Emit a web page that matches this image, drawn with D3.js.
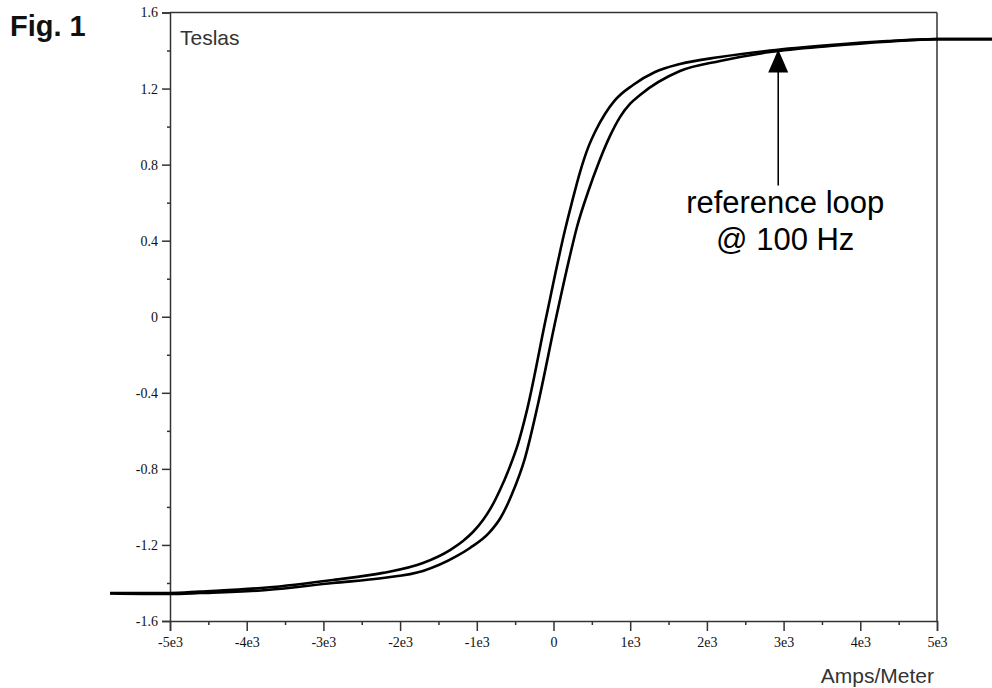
<!DOCTYPE html>
<html>
<head>
<meta charset="utf-8">
<script src="https://cdn.jsdelivr.net/npm/d3@7"></script>
<style>
  html, body { margin: 0; padding: 0; background: #fff; }
  svg { display: block; }
</style>
</head>
<body>
<svg id="chart" width="992" height="688"></svg>
<script>
// ---------------- data ----------------
// Descending (upper / left) branch of the B-H loop: H in A/m, B in Tesla
const descH = [-5782, -5000, -4610, -3736, -2875, -2223, -1702, -1349, -1180, -1050, -919, -802, -698, -580, -463, -345, -98, 150, 241, 346, 450, 554, 671, 802, 1037, 1324, 1649, 2171, 2823, 3605, 4348, 5000, 5717];
const descB = [-1.453, -1.453, -1.445, -1.424, -1.384, -1.347, -1.295, -1.227, -1.179, -1.132, -1.069, -0.995, -0.911, -0.800, -0.669, -0.490, -0.007, 0.456, 0.603, 0.761, 0.888, 0.982, 1.066, 1.139, 1.219, 1.287, 1.329, 1.366, 1.400, 1.429, 1.450, 1.460, 1.460];
// Ascending (lower / right) branch
const ascH = [-5782, -5000, -4610, -3736, -2875, -2223, -1702, -1258, -1089, -841, -684, -541, -372, -202, 33, 202, 306, 450, 593, 737, 867, 997, 1128, 1649, 2171, 2823, 3605, 4348, 5000, 5717];
const ascB = [-1.455, -1.458, -1.453, -1.437, -1.400, -1.374, -1.337, -1.258, -1.216, -1.137, -1.053, -0.932, -0.743, -0.459, -0.007, 0.299, 0.472, 0.656, 0.814, 0.951, 1.050, 1.119, 1.166, 1.292, 1.345, 1.392, 1.424, 1.447, 1.460, 1.460];

// axis ticks
const xTicks = [-5000, -4000, -3000, -2000, -1000, 0, 1000, 2000, 3000, 4000, 5000];
const xTickLabels = ["-5e3", "-4e3", "-3e3", "-2e3", "-1e3", "0", "1e3", "2e3", "3e3", "4e3", "5e3"];
const xMinor = [-4500, -3500, -2500, -1500, -500, 500, 1500, 2500, 3500, 4500];
const yTicks = [1.6, 1.2, 0.8, 0.4, 0, -0.4, -0.8, -1.2, -1.6];
const yTickLabels = ["1.6", "1.2", "0.8", "0.4", "0", "-0.4", "-0.8", "-1.2", "-1.6"];
const yMinor = [1.4, 1.0, 0.6, 0.2, -0.2, -0.6, -1.0, -1.4];

const annotation = { H: 2930, B: 1.40, lines: ["reference loop", "@ 100 Hz"] };

// ---------------- layout ----------------
const svg = d3.select("#chart");
const pLeft = 170, pRight = 937, pTop = 12.5, pBottom = 621;

const x = d3.scaleLinear().domain([-5000, 5000]).range([pLeft, pRight]);
const y = d3.scaleLinear().domain([-1.6, 1.6]).range([pBottom, pTop]);

svg.append("rect").attr("width", 992).attr("height", 688).attr("fill", "#fff");

// frame (top and right)
svg.append("line").attr("x1", pLeft).attr("x2", pRight).attr("y1", pTop).attr("y2", pTop)
  .attr("stroke", "#333").attr("stroke-width", 1.5);
svg.append("line").attr("x1", pRight).attr("x2", pRight).attr("y1", pTop).attr("y2", pBottom)
  .attr("stroke", "#333").attr("stroke-width", 1.5);

// axes
const labelFont = "'Liberation Serif', 'DejaVu Serif', serif";
const yAxis = d3.axisLeft(y).tickValues(yTicks)
  .tickFormat((d, i) => yTickLabels[i]).tickSize(8).tickPadding(4);
const gy = svg.append("g").attr("transform", `translate(${pLeft},0)`).call(yAxis);
gy.attr("font-size", 14).attr("font-family", labelFont);
gy.select(".domain").attr("stroke", "#333").attr("stroke-width", 1.5);
gy.selectAll(".tick line").attr("stroke", "#333").attr("stroke-width", 1.5);
gy.selectAll(".tick text").attr("fill", "#111");

const yAxisMinor = d3.axisLeft(y).tickValues(yMinor).tickFormat("").tickSize(3);
const gym = svg.append("g").attr("transform", `translate(${pLeft},0)`).call(yAxisMinor);
gym.select(".domain").remove();
gym.selectAll(".tick line").attr("stroke", "#333").attr("stroke-width", 1.5);

const xAxis = d3.axisBottom(x).tickValues(xTicks)
  .tickFormat((d, i) => xTickLabels[i]).tickSize(10).tickPadding(6);
const gx = svg.append("g").attr("transform", `translate(0,${pBottom})`).call(xAxis);
gx.attr("font-size", 14).attr("font-family", labelFont);
gx.select(".domain").attr("stroke", "#333").attr("stroke-width", 1.5);
gx.selectAll(".tick line").attr("stroke", "#333").attr("stroke-width", 1.5);
gx.selectAll(".tick text").attr("fill", "#111");

const xAxisMinor = d3.axisBottom(x).tickValues(xMinor).tickFormat("").tickSize(4);
const gxm = svg.append("g").attr("transform", `translate(0,${pBottom})`).call(xAxisMinor);
gxm.select(".domain").remove();
gxm.selectAll(".tick line").attr("stroke", "#333").attr("stroke-width", 1.5);

// axis titles
const sans = "'Liberation Sans', Arial, Helvetica, sans-serif";
svg.append("text").attr("x", pLeft + 10).attr("y", pTop + 32)
  .attr("font-family", sans).attr("font-size", 21).attr("fill", "#333").text("Teslas");
svg.append("text").attr("x", pRight - 3).attr("y", 683).attr("text-anchor", "end")
  .attr("font-family", sans).attr("font-size", 21).attr("fill", "#333").text("Amps/Meter");

// figure label
svg.append("text").attr("x", 10).attr("y", 36)
  .attr("font-family", sans).attr("font-size", 29).attr("font-weight", "bold").attr("fill", "#111").text("Fig. 1");

// loop curves
const line = d3.line().x(d => x(d[0])).y(d => y(d[1])).curve(d3.curveMonotoneX);
const descData = descH.map((h, i) => [h, descB[i]]);
const ascData = ascH.map((h, i) => [h, ascB[i]]);
[descData, ascData].forEach(data => {
  svg.append("path").datum(data).attr("d", line)
    .attr("fill", "none").attr("stroke", "#000").attr("stroke-width", 2.6)
    .attr("stroke-linejoin", "round");
});

// annotation arrow
const ax = x(annotation.H), ay = y(annotation.B);
svg.append("line").attr("x1", ax).attr("x2", ax).attr("y1", ay + 20).attr("y2", ay + 135)
  .attr("stroke", "#000").attr("stroke-width", 1.6);
svg.append("path")
  .attr("d", `M${ax},${ay - 1} L${ax - 10},${ay + 22} L${ax + 10},${ay + 22} Z`)
  .attr("fill", "#000");
const tx = ax + 7;
annotation.lines.forEach((t, i) => {
  svg.append("text").attr("x", tx).attr("y", ay + 162 + i * 37).attr("text-anchor", "middle")
    .attr("font-family", sans).attr("font-size", 31).attr("fill", "#000").text(t);
});
</script>
</body>
</html>
